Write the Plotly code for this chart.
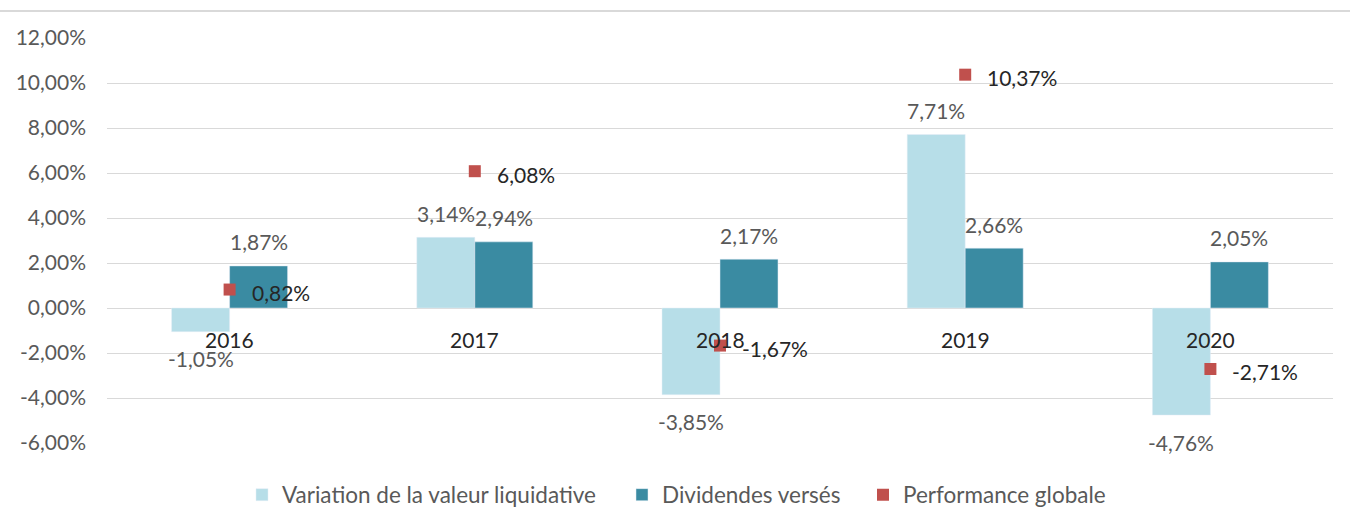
import plotly.graph_objects as go

years = ["2016", "2017", "2018", "2019", "2020"]
variation = [-1.05, 3.14, -3.85, 7.71, -4.76]
dividendes = [1.87, 2.94, 2.17, 2.66, 2.05]
performance = [0.82, 6.08, -1.67, 10.37, -2.71]
y_ticks = [-6, -4, -2, 0, 2, 4, 6, 8, 10, 12]

names = ["Variation de la valeur liquidative", "Dividendes versés", "Performance globale"]
c_light = "#B7DEE8"
c_dark = "#3A8BA2"
c_red = "#C0504D"
FONT = "Lato"
GRAY = "#595959"
DARK = "#262626"


def fmt(v):
    return f"{v:.2f}".replace(".", ",") + "%"


fig = go.Figure()
fig.add_trace(go.Bar(x=years, y=variation, name=names[0], marker_color=c_light,
                     offsetgroup="a", legend="legend"))
fig.add_trace(go.Bar(x=years, y=dividendes, name=names[1], marker_color=c_dark,
                     offsetgroup="b", legend="legend2"))
fig.add_trace(go.Scatter(x=years, y=performance, name=names[2], mode="markers",
                         marker=dict(symbol="square", size=12, color=c_red), legend="legend3"))

ann = []
for series, off in ((variation, -0.5), (dividendes, 0.5)):
    for i, v in enumerate(series):
        ann.append(dict(x=i, y=v, xref="x", yref="y", text=fmt(v), showarrow=False,
                        xshift=off * 58, yshift=24 if v >= 0 else -27,
                        font=dict(family=FONT, size=21, color=GRAY)))
for i, v in enumerate(performance):
    ann.append(dict(x=i, y=v, xref="x", yref="y", text=fmt(v), showarrow=False,
                    xanchor="left", xshift=20, yshift=-3,
                    font=dict(family=FONT, size=21, color=DARK)))
for i, yr in enumerate(years):
    ann.append(dict(x=i, y=0, xref="x", yref="y", text=yr, showarrow=False,
                    yshift=-31, font=dict(family=FONT, size=21, color=DARK)))

leg_common = dict(orientation="h", xref="container", yref="container", xanchor="left",
                  yanchor="middle", y=30 / 525, bgcolor="rgba(0,0,0,0)",
                  font=dict(family=FONT, size=22.5, color=GRAY))

fig.update_layout(
    width=1350, height=525,
    margin=dict(l=107, r=17, t=38, b=82),
    paper_bgcolor="white", plot_bgcolor="white",
    barmode="group", bargap=0.527, bargroupgap=0,
    font=dict(family=FONT, size=21, color=GRAY),
    showlegend=True,
    legend=dict(x=242 / 1350, **leg_common),
    legend2=dict(x=622 / 1350, **leg_common),
    legend3=dict(x=863 / 1350, **leg_common),
    annotations=ann,
    shapes=[dict(type="line", xref="paper", yref="paper",
                 x0=-107 / 1226, x1=1243 / 1226, y0=432 / 405, y1=432 / 405,
                 line=dict(color="#D9D9D9", width=2))],
)
fig.update_xaxes(showticklabels=False, showgrid=False, zeroline=False, showline=False,
                 range=[-0.5, 4.5])
fig.update_yaxes(range=[-6, 12], tickvals=y_ticks, ticktext=[fmt(t) for t in y_ticks],
                 showgrid=True, gridcolor="#D9D9D9", gridwidth=1,
                 zeroline=True, zerolinecolor="#D9D9D9", zerolinewidth=1,
                 showline=False, ticks="", ticklabelstandoff=20,
                 tickfont=dict(family=FONT, size=21, color=GRAY))

fig.write_html("out.html", config={"displayModeBar": False},
               post_script="document.body.style.margin='0';document.body.style.overflow='hidden';")
